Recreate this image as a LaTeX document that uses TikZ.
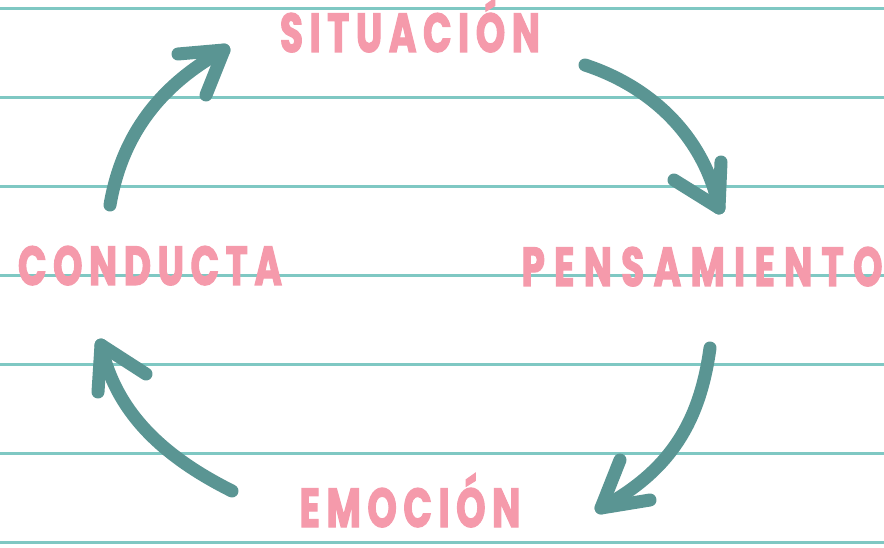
\documentclass[tikz,border=0pt]{standalone}
\usepackage{fontspec}
\usetikzlibrary{calc}
\newfontfamily\hand{Poppins}[FakeStretch=0.68,LetterSpace=12,FakeBold=2]
\definecolor{ruled}{HTML}{7FC8C3}
\definecolor{arrowc}{HTML}{5A9593}
\definecolor{pinkt}{HTML}{F59AAB}
\begin{document}
\begin{tikzpicture}[x=1pt,y=-1pt,
  ruleline/.style={ruled,line width=3},
  word/.style={pinkt,anchor=base,font=\hand\bfseries\fontsize{55}{55}\selectfont,inner sep=0},
  shaft/.style={arrowc,line width=13,line cap=round},
  headarm/.style={arrowc,line width=13,line cap=round,line join=round},
  headfill/.style={arrowc}]
\useasboundingbox (0,0) rectangle (884,548);
\fill[white] (0,0) rectangle (884,548);
\foreach \yy in {9,98,187,276,364,453,542}
  \draw[ruleline] (0,\yy) -- (884,\yy);
% words
\node[word] (sit) at (410,52) {SITUACIÓN};
\node[word] (pen) at (702,286) {\addfontfeature{LetterSpace=17}PENSAMIENTO};
\node[word] (con) at (150,285) {CONDUCTA};
\node[word] (emo) at (410,527) {EMOCIÓN};
% arrow endpoints
\coordinate (a1s) at (110,205);
\coordinate (a1t) at (224,50);
\coordinate (a1l) at (178,54);
\coordinate (a1r) at (206,95);
\coordinate (a2s) at (585,65);
\coordinate (a2t) at (719,208);
\coordinate (a2l) at (674,180);
\coordinate (a2r) at (721,162);
\coordinate (a3s) at (710,348);
\coordinate (a3t) at (601,508);
\coordinate (a3l) at (620,460);
\coordinate (a3r) at (650,500);
\coordinate (a4s) at (232,491);
\coordinate (a4t) at (101,345);
\coordinate (a4l) at (146,374);
\coordinate (a4r) at (98,392);
% arrows
\draw[shaft] (a1s) .. controls (122,135) and (160,85) .. (a1t);
\draw[shaft] (a2s) .. controls (655,88) and (705,140) .. (a2t);
\draw[shaft] (a3s) .. controls (700,420) and (672,470) .. (a3t);
\draw[shaft] (a4s) .. controls (160,455) and (115,410) .. (a4t);
\foreach \a in {a1,a2,a3,a4}{
  \draw[headarm] (\a l) -- (\a t) -- (\a r);
  \fill[headfill] (\a t) -- ($(\a t)!0.4!(\a l)$) -- ($(\a t)!0.4!(\a r)$) -- cycle;
}
\end{tikzpicture}
\end{document}
